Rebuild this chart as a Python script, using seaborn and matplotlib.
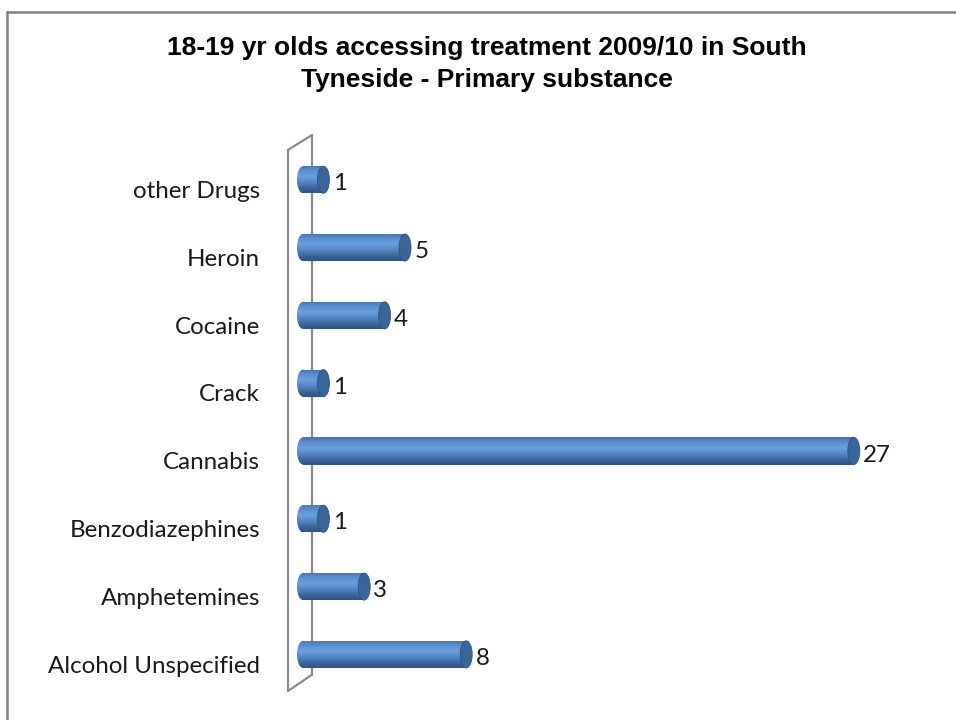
import numpy as np
import pandas as pd
import matplotlib
matplotlib.use("Agg")
import matplotlib.pyplot as plt
import matplotlib.transforms as mtrans
import seaborn as sns
from matplotlib.patches import Ellipse, Rectangle
from matplotlib.lines import Line2D
from matplotlib.colors import LinearSegmentedColormap

categories = ["other Drugs", "Heroin", "Cocaine", "Crack", "Cannabis",
              "Benzodiazephines", "Amphetemines", "Alcohol Unspecified"]
values = [1, 5, 4, 1, 27, 1, 3, 8]
title = "18-19 yr olds accessing treatment 2009/10 in South\nTyneside - Primary substance"

sns.set_theme(style="white")
plt.rcParams['font.family'] = ['Lato', 'DejaVu Sans']

df = pd.DataFrame({"substance": categories, "count": values})

fig = plt.figure(figsize=(9.56, 7.2), dpi=100)
W, H = 956, 720
XMIN, XMAX = -0.735, 30
ax = fig.add_axes([288 / W, 1 - 691 / H, (915 - 288) / W, (691 - 135) / H])

sns.barplot(data=df, y="substance", x="count", orient="h", order=categories,
            color="#4F81BD", width=0.4, ax=ax, saturation=1)

ax.set_xlim(XMIN, XMAX)
ax.set_ylim(7.54, -0.66)
for s in ax.spines.values():
    s.set_visible(False)
ax.set_xticks([])
ax.set_xlabel("")
ax.set_ylabel("")
ax.tick_params(axis="y", length=0, pad=20, labelsize=17.4, labelcolor="#1a1a1a")
down = mtrans.ScaledTranslation(0, -7 / 72, fig.dpi_scale_trans)
for lab in ax.get_yticklabels():
    lab.set_transform(lab.get_transform() + down)

# back wall
wall = "#8c8c8c"
fx, bx = -0.735, 0.44
ax.add_line(Line2D([fx, fx], [-0.44, 7.54], color=wall, lw=1.6, clip_on=False, zorder=0))
ax.add_line(Line2D([bx, bx], [-0.66, 7.30], color=wall, lw=1.6, clip_on=False, zorder=0))
ax.add_line(Line2D([fx, bx], [-0.44, -0.66], color=wall, lw=1.6, clip_on=False, zorder=0))
ax.add_line(Line2D([fx, bx], [7.54, 7.30], color=wall, lw=1.6, clip_on=False, zorder=0))

cmap = LinearSegmentedColormap.from_list(
    "cyl", ["#4574AE", "#5D90D0", "#6A9EDD", "#5587C6", "#3D69A0", "#2D5385"])
grad = np.linspace(0, 1, 64).reshape(-1, 1)
cap_w = 0.59  # data units (~12px)

for p in list(ax.patches):
    x0, y0 = p.get_x(), p.get_y()
    w, h = p.get_width(), p.get_height()
    yc = y0 + h / 2
    p.set_facecolor("none")
    p.set_edgecolor("none")
    im = ax.imshow(grad, aspect="auto", cmap=cmap,
                   extent=[x0, x0 + w, y0 + h, y0], zorder=2)
    clip = Rectangle((x0, y0), w, h, transform=ax.transData, visible=False)
    ax.add_patch(clip)
    im.set_clip_path(clip)
    im2 = ax.imshow(grad, aspect="auto", cmap=cmap,
                    extent=[x0 - cap_w / 2, x0 + 0.01, y0 + h, y0], zorder=2)
    le = Ellipse((x0, yc), cap_w, h, transform=ax.transData, visible=False)
    ax.add_patch(le)
    im2.set_clip_path(le)
    ax.add_patch(Ellipse((x0 + w, yc), cap_w, h, facecolor="#3A6599",
                         edgecolor="#2E5584", lw=0.6, zorder=3))
    t = ax.text(x0 + w + 0.45, yc, f"{w:g}", va="center", ha="left",
                fontsize=17.4, color="#1a1a1a", zorder=4)
    t.set_transform(ax.transData + mtrans.ScaledTranslation(0, -3 / 72, fig.dpi_scale_trans))

ax.set_xlim(XMIN, XMAX)
ax.set_ylim(7.54, -0.66)

fig.text(487 / W, 1 - 64 / H, title, ha="center", va="center",
         fontsize=19, fontweight="bold", family=["Liberation Sans", "DejaVu Sans"],
         linespacing=1.45, color="black")

fig.add_artist(Line2D([7 / W, 7 / W], [1 - 12 / H, 0], transform=fig.transFigure,
                      color="#808080", lw=1.8))
fig.add_artist(Line2D([7 / W, 1], [1 - 12 / H, 1 - 12 / H], transform=fig.transFigure,
                      color="#808080", lw=1.8))

fig.savefig("out.png", dpi=100)
